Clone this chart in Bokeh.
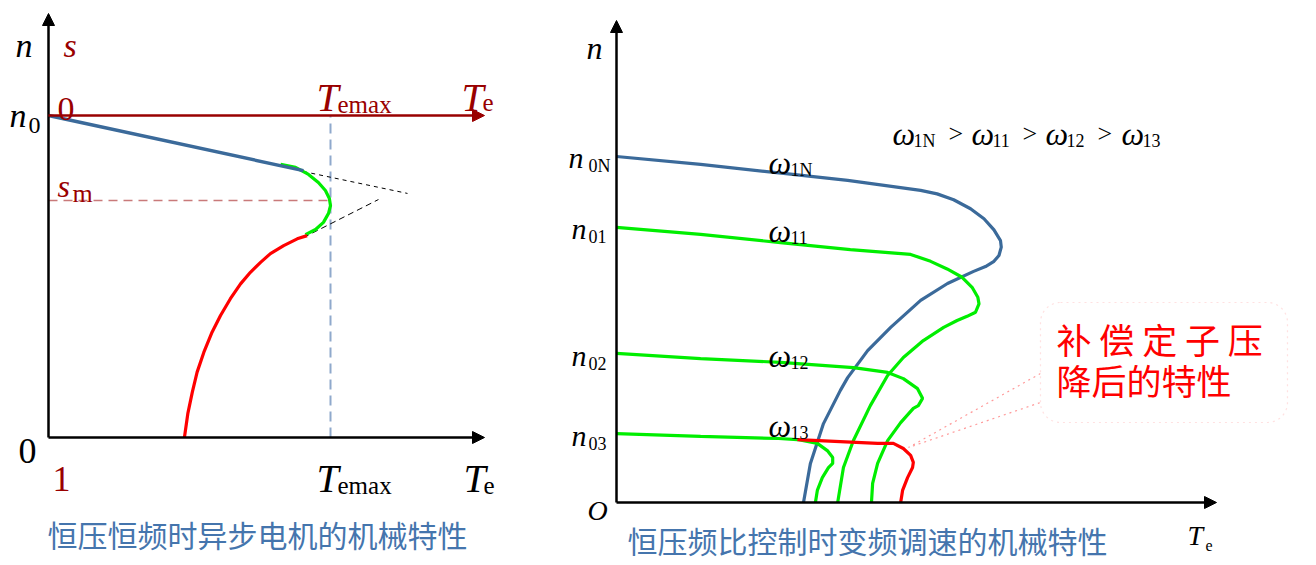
from bokeh.plotting import figure
from bokeh.models import Range1d, Label, Arrow, NormalHead, BoxAnnotation
from bokeh.layouts import row
from bokeh.embed import file_html
from bokeh.resources import INLINE

# ---------------- data: left chart (T in units of Temax, n in units of n0) ----------------
T_emax = 1.0
n_0 = 1.0
s_m_n = 0.736            # speed level at critical slip s_m
left_linear_T = [0.0, 0.904]
left_linear_n = [1.0, 0.829]
left_peak_T = [0.823, 0.876, 0.922, 0.957, 0.982, 0.996, 1.000, 0.993, 0.975, 0.947, 0.911]
left_peak_n = [0.848, 0.839, 0.817, 0.792, 0.767, 0.742, 0.720, 0.696, 0.668, 0.646, 0.630]
left_start_T = [0.917, 0.882, 0.834, 0.787, 0.752, 0.716, 0.681, 0.645, 0.610, 0.580,
                0.551, 0.527, 0.510, 0.494, 0.482]
left_start_n = [0.627, 0.617, 0.596, 0.571, 0.544, 0.513, 0.477, 0.431, 0.379, 0.327,
                0.265, 0.203, 0.141, 0.074, 0.0]
tangent_upper_T = [0.904, 1.273]
tangent_upper_n = [0.826, 0.758]
tangent_lower_T = [0.904, 1.170]
tangent_lower_n = [0.621, 0.739]

# ---------------- data: right chart (n in units of n0N, T in units of Temax at w1N) -------
w1N_T = [0, 0.219, 0.435, 0.602, 0.792, 0.835, 0.878, 0.922, 0.957, 0.983, 1.0, 1.002,
         0.996, 0.983, 0.961, 0.930, 0.862, 0.792, 0.714, 0.654, 0.602, 0.583, 0.539,
         0.505, 0.487]
w1N_n = [1.0, 0.977, 0.951, 0.931, 0.902, 0.892, 0.875, 0.849, 0.820, 0.788, 0.757, 0.738,
         0.714, 0.697, 0.682, 0.668, 0.633, 0.584, 0.506, 0.439, 0.361, 0.324, 0.228,
         0.113, 0.0]
w11_T = [0, 0.219, 0.427, 0.609, 0.766, 0.818, 0.861, 0.900, 0.926, 0.941, 0.944, 0.935,
         0.913, 0.887, 0.852, 0.799, 0.747, 0.706, 0.661, 0.617, 0.591, 0.576]
w11_n = [0.795, 0.775, 0.751, 0.731, 0.717, 0.697, 0.675, 0.651, 0.622, 0.593, 0.574, 0.550,
         0.538, 0.526, 0.506, 0.468, 0.419, 0.367, 0.280, 0.179, 0.101, 0.0]
w12_T = [0, 0.219, 0.427, 0.617, 0.706, 0.747, 0.784, 0.797, 0.786, 0.773, 0.740, 0.706,
         0.680, 0.667, 0.664]
w12_n = [0.431, 0.416, 0.405, 0.390, 0.376, 0.358, 0.329, 0.301, 0.280, 0.272, 0.231, 0.179,
         0.113, 0.055, 0.0]
w13_T = [0, 0.219, 0.422, 0.471, 0.523, 0.549, 0.563, 0.563, 0.552, 0.536, 0.523, 0.518]
w13_n = [0.199, 0.191, 0.185, 0.182, 0.171, 0.150, 0.130, 0.113, 0.101, 0.072, 0.035, 0.0]
comp_T = [0.471, 0.680, 0.721, 0.747, 0.766, 0.773, 0.771, 0.758, 0.745, 0.740]
comp_n = [0.182, 0.171, 0.171, 0.156, 0.136, 0.116, 0.101, 0.072, 0.035, 0.0]

# ---------------- texts ----------------
left_caption = "恒压恒频时异步电机的机械特性"
right_caption = "恒压频比控制时变频调速的机械特性"
callout_lines = ["补 偿 定 子 压", "降后的特性"]
n_levels = ["0N", "01", "02", "03"]
omega_subs = ["1N", "11", "12", "13"]

# ---------------- styles ----------------
SERIF = "Liberation Serif"
CJK = "Noto Sans CJK SC"
DARK_RED = "#990000"
BLUE = "#3B6A9A"
GREEN = "#00EE00"
RED = "#FF0000"
CAPTION = "#4575AD"
H = 564

# layout helpers: page pixel position -> data units of each panel
L_O = (48, 437); L_S = (282.0, 322.0)
R_O = (616, 502); R_S = (384.0, 346.0)
def lx(px): return (px - L_O[0]) / L_S[0]
def ly(py): return (L_O[1] - py) / L_S[1]
def rx(px): return (px - R_O[0]) / R_S[0]
def ry(py): return (R_O[1] - py) / R_S[1]


def make_fig(width, xs, ys):
    p = figure(width=width, height=H, x_range=Range1d(*xs), y_range=Range1d(*ys),
               output_backend="svg", toolbar_location=None,
               x_axis_location=None, y_axis_location=None, min_border=0)
    p.grid.visible = False
    p.outline_line_color = None
    p.background_fill_color = "white"
    p.border_fill_color = "white"
    return p


def txt(p, X, Y, s, size, color="black", italic=False, font=SERIF, align="left",
        baseline="alphabetic"):
    p.add_layout(Label(x=X, y=Y, text=s, text_font=font, text_font_size=f"{size}px",
                       text_color=color, text_font_style="italic" if italic else "normal",
                       text_align=align, text_baseline=baseline))


def arrow(p, x0, y0, x1, y1, color, w=2.5):
    p.add_layout(Arrow(end=NormalHead(size=12, fill_color=color, line_color=color, line_width=1),
                       x_start=x0, y_start=y0, x_end=x1, y_end=y1,
                       line_color=color, line_width=w))


# ======================= LEFT PANEL =======================
p1 = make_fig(560, (lx(0), lx(560)), (ly(H), ly(0)))

# guides
p1.line([0, T_emax], [s_m_n, s_m_n], line_color="#C97A7A", line_width=1.6, line_dash="9 6")
p1.line([T_emax, T_emax], [0, n_0], line_color="#8FA9CC", line_width=2, line_dash="10 6")
p1.line(tangent_upper_T, tangent_upper_n, line_color="black", line_width=1, line_dash="4 4")
p1.line(tangent_lower_T, tangent_lower_n, line_color="black", line_width=1, line_dash="6 4")

# curves
p1.line(left_peak_T, left_peak_n, line_color=GREEN, line_width=3.2)
p1.line(left_linear_T, left_linear_n, line_color=BLUE, line_width=3.4)
p1.line(left_start_T, left_start_n, line_color=RED, line_width=3.2)

# axes
arrow(p1, 0, 0, 0, ly(13), "black")
arrow(p1, 0, 0, lx(484), 0, "black")
arrow(p1, 0, n_0, lx(484), n_0, DARK_RED)

# labels
txt(p1, lx(15), ly(45), "n", 34, italic=True)
txt(p1, lx(63), ly(45), "s", 34, DARK_RED, italic=True)
txt(p1, lx(9), ly(115), "n", 34, italic=True)
txt(p1, lx(28), ly(125), "0", 24)
txt(p1, lx(57), ly(108), "0", 34, DARK_RED)
txt(p1, lx(316), ly(97), "T", 40, DARK_RED, italic=True)
txt(p1, lx(337), ly(104), "emax", 25, DARK_RED)
txt(p1, lx(461), ly(97), "T", 40, DARK_RED, italic=True)
txt(p1, lx(482), ly(102), "e", 25, DARK_RED)
txt(p1, lx(57), ly(185), "s", 32, DARK_RED, italic=True)
txt(p1, lx(72), ly(193), "m", 26, DARK_RED)
txt(p1, lx(18), ly(450), "0", 36)
txt(p1, lx(52), ly(478), "1", 36, DARK_RED)
txt(p1, lx(316), ly(478), "T", 40, italic=True)
txt(p1, lx(337), ly(485), "emax", 25)
txt(p1, lx(463), ly(478), "T", 40, italic=True)
txt(p1, lx(483), ly(485), "e", 25)
txt(p1, lx(47), ly(533), left_caption, 30, CAPTION, font=CJK, baseline="middle")

# ======================= RIGHT PANEL =======================
p2 = make_fig(750, (rx(560), rx(1310)), (ry(H), ry(0)))

# callout
p2.add_layout(BoxAnnotation(left=rx(1040), right=rx(1287), top=ry(302), bottom=ry(422),
                            fill_color="white", fill_alpha=1.0, line_color="#FF9A9A",
                            line_width=1.2, line_dash="dotted", border_radius=20))
p2.line([rx(1040), rx(908), rx(1040)], [ry(373), ry(447), ry(402)],
        line_color="#FF9A9A", line_width=1.2, line_dash="dotted")
txt(p2, rx(1056), ry(338), callout_lines[0], 35, RED, font=CJK, baseline="middle")
txt(p2, rx(1056), ry(379), callout_lines[1], 35, RED, font=CJK, baseline="middle")

# curves
p2.line(w1N_T, w1N_n, line_color=BLUE, line_width=3.2)
p2.line(w11_T, w11_n, line_color=GREEN, line_width=3.2)
p2.line(w12_T, w12_n, line_color=GREEN, line_width=3.2)
p2.line(w13_T, w13_n, line_color=GREEN, line_width=3.2)
p2.line(comp_T, comp_n, line_color=RED, line_width=3.2)

# axes
arrow(p2, 0, 0, 0, ry(20), "black")
arrow(p2, 0, 0, rx(1216), 0, "black")

# labels
txt(p2, rx(586), ry(47), "n", 32, italic=True)
for lab, py in zip(n_levels, [157, 228, 355, 435]):
    txt(p2, rx(568 if lab == "0N" else 571), ry(py), "n", 30, italic=True)
    txt(p2, rx(588), ry(py + 8), lab, 18)
txt(p2, rx(587), ry(510), "O", 28, italic=True)
txt(p2, rx(1187), ry(535), "T", 28, italic=True)
txt(p2, rx(1205), ry(545), "e", 16)

for sub, py in zip(omega_subs, [162, 230, 355, 425]):
    txt(p2, rx(768), ry(py), "ω", 32, italic=True)
    txt(p2, rx(790), ry(py + 7), sub, 18)

f_omega = [892, 971, 1045, 1121]
f_gt = [948, 1022, 1097]
for i, sub in enumerate(omega_subs):
    txt(p2, rx(f_omega[i]), ry(133), "ω", 32, italic=True)
    txt(p2, rx(f_omega[i] + 21), ry(140), sub, 18)
for gx in f_gt:
    txt(p2, rx(gx), ry(133), ">", 26)

txt(p2, rx(627), ry(539), right_caption, 30, CAPTION, font=CJK, baseline="middle")

layout = row(p1, p2)
open("out.html", "w").write(file_html(layout, INLINE))
